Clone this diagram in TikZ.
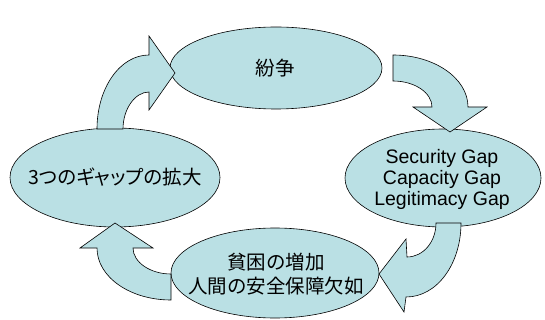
\documentclass[tikz,border=0pt]{standalone}
\usepackage{fontspec}
\setmainfont{Liberation Sans}
\newfontfamily\jpfont{Noto Sans CJK JP}
\newfontfamily\jppfont[RawFeature=+palt]{Noto Sans CJK JP}
\definecolor{blobfill}{RGB}{186,224,228}
\tikzset{
  blob/.style={draw=black, line width=0.6pt, fill=blobfill},
  blockarrow/.style={draw=black, line width=0.6pt, fill=blobfill, line join=miter},
  label/.style={align=center, inner sep=0pt, text=black},
  jptext/.style={label, font=\jpfont\fontsize{19.5}{24}\selectfont},
  entext/.style={label, font=\fontsize{19.5}{21}\selectfont},
}
\begin{document}
\begin{tikzpicture}[x=1pt, y=-1pt]
\useasboundingbox (0,0) rectangle (545,320);
% ellipses
\draw[blob] (276,68) ellipse [x radius=106pt, y radius=41pt];
\draw[blob] (443,178) ellipse [x radius=98pt, y radius=49pt];
\draw[blob] (275,273) ellipse [x radius=104pt, y radius=45pt];
\draw[blob] (115,177.5) ellipse [x radius=105pt, y radius=49.5pt];
% texts
\node[jptext] (conflict) at (275,68) {紛争};
\node[entext] (gaps) at (442,179) {Security Gap\\Capacity Gap\\Legitimacy Gap};
\node[jptext] (poverty) at (276,274) {貧困の増加\\人間の安全保障欠如};
\node[label, font=\jppfont\fontsize{19.5}{24}\selectfont] (widen) at (115,177) {3つのギャップの拡大};
% curved block arrows
\draw[blockarrow] (97,129) .. controls (97,88) and (120,55) .. (149,55)
  -- (149,36) -- (175,73) -- (149,110) -- (149,92)
  .. controls (135,92) and (123,109) .. (123,129) -- cycle;
\draw[blockarrow] (393,55) .. controls (434,55) and (468,78) .. (468,107)
  -- (487,107) -- (450,132) -- (413,107) -- (432,107)
  .. controls (432,93) and (415,81) .. (393,81) -- cycle;
\draw[blockarrow] (461,223) .. controls (461,264) and (437,297) .. (406,297)
  -- (404,312) -- (379,274) -- (406,239) -- (407,257)
  .. controls (423,257) and (436,242) .. (436,223) -- cycle;
\draw[blockarrow] (171,300) .. controls (130,300) and (97,277) .. (97,248)
  -- (80,248) -- (115,223) -- (153,248) -- (133,248)
  .. controls (133,262) and (150,274) .. (171,274) -- cycle;
\end{tikzpicture}
\end{document}
